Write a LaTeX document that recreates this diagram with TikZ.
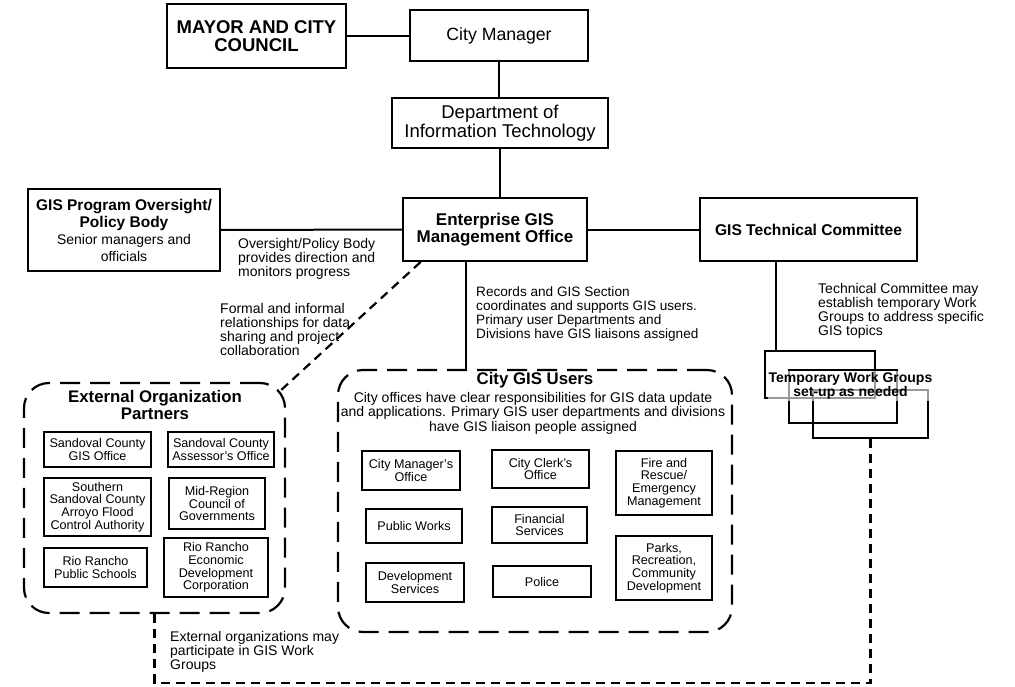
\documentclass[tikz,border=0pt]{standalone}
\usepackage{fontspec}
\setmainfont{Liberation Sans}
\usetikzlibrary{calc}

\begin{document}
\begin{tikzpicture}[x=1pt,y=-1pt]
    \tikzstyle{block} = [ shape=rectangle, draw=black, line width=2pt, align=center, inner sep=0pt ];
    \tikzstyle{unit} = [ shape=rectangle, draw=black, line width=1.6pt, align=center, inner sep=0pt, font=\fontsize{12.6}{12.7}\selectfont ];
    \tikzstyle{group} = [ shape=rectangle, rounded corners=25pt, draw=black, line width=2.2pt, dash pattern=on 20pt off 10pt ];
    \tikzstyle{temp} = [ shape=rectangle, draw=black, line width=1.5pt ];
    \tikzstyle{note} = [ anchor=west, align=left, inner sep=0pt, font=\fontsize{14}{14}\selectfont ];
    \tikzstyle{link} = [ line width=2pt ];
    \tikzstyle{dlink} = [ line width=2.2pt, dash pattern=on 9pt off 6pt ];

    \useasboundingbox (0,0) rectangle (1015,686);
    \fill[white] (0,0) rectangle (1015,686);

    % top of the chart
    \node (nMayor) [block, font=\bfseries\fontsize{18.5}{17.5}\selectfont, minimum width=179pt, minimum height=64pt] at (256.5,36) {MAYOR AND CITY\\COUNCIL};
    \node (nCityMgr) [block, font=\fontsize{17.7}{17}\selectfont, minimum width=178pt, minimum height=51pt] at (499,35.5) {City Manager};
    \node (nDeptIT) [block, font=\fontsize{18.5}{18.5}\selectfont, minimum width=216pt, minimum height=50pt] at (500,123) {Department of\\Information Technology};
    \node (nGisMO) [block, font=\bfseries\fontsize{17}{17.5}\selectfont, minimum width=184pt, minimum height=63pt] at (495,229.5) {Enterprise GIS\\Management Office};
    \node (nOversight) [block, font=\bfseries\fontsize{15.5}{17}\selectfont, minimum width=192pt, minimum height=82pt] at (124,230) {GIS Program Oversight/\\Policy Body\\{\mdseries\fontsize{14}{16}\selectfont Senior managers and}\\{\mdseries\fontsize{14}{16}\selectfont officials}};
    \node (nTechCom) [block, font=\bfseries\fontsize{15.6}{17}\selectfont, minimum width=217pt, minimum height=63pt] at (808.5,229.5) {GIS Technical Committee};

    \draw [link] (nMayor.east) -- (nMayor.east -| nCityMgr.west);
    \draw [link] (nCityMgr.south) -- (nCityMgr.south |- nDeptIT.north);
    \draw [link] (nDeptIT.south) -- (nDeptIT.south |- nGisMO.north);
    \draw [link] (nOversight) -- (nGisMO);
    \draw [link] (nGisMO) -- (nTechCom);

    % notes
    \node (nNoteOversight) [note] at (238,259) {Oversight/Policy Body\\provides direction and\\monitors progress};
    \node (nNoteFormal) [note] at (220,329) {Formal and informal\\relationships for data\\sharing and project\\collaboration};
    \node (nNoteRecords) [note, font=\fontsize{13.6}{14}\selectfont] at (476,314) {Records and GIS Section\\coordinates and supports GIS users.\\Primary user Departments and\\Divisions have GIS liaisons assigned};
    \node (nNoteTech) [note] at (818,311) {Technical Committee may\\establish temporary Work\\Groups to address specific\\GIS topics};
    \node (nNoteExternal) [note] at (170,652) {External organizations may\\participate in GIS Work\\Groups};

    % temporary work groups
    \node (nTempA) [temp, minimum width=110pt, minimum height=47pt] at (820,374.5) {};
    \node (nTempB) [temp, minimum width=108pt, minimum height=53pt] at (843,396.5) {};
    \node (nTempC) [temp, minimum width=115pt, minimum height=48pt] at (870.5,414) {};
    \node (nTempText) [fill=white, fill opacity=0.6, text opacity=1, inner sep=1pt, align=center, font=\bfseries\fontsize{14}{13}\selectfont] at (850.5,386) {Temporary Work Groups\\set-up as needed};

    % external partners
    \node (nExternal) [group, minimum width=261pt, minimum height=230pt] at (154.5,498) {};
    \node (nExternalTitle) [align=center, inner sep=0pt, font=\bfseries\fontsize{16.8}{16.5}\selectfont] at (155,405) {External Organization\\Partners};
    \node (nSandGIS) [unit, minimum width=107pt, minimum height=35pt] at (97.5,449.5) {Sandoval County\\GIS Office};
    \node (nSandAss) [unit, minimum width=106pt, minimum height=35pt] at (221,449.5) {Sandoval County\\Assessor's Office};
    \node (nSouthern) [unit, minimum width=107pt, minimum height=58pt] at (97.5,507) {Southern\\Sandoval County\\Arroyo Flood\\Control Authority};
    \node (nMidRegion) [unit, minimum width=96pt, minimum height=51pt] at (217,503.5) {Mid-Region\\Council of\\Governments};
    \node (nRioSchools) [unit, minimum width=103pt, minimum height=39pt] at (95.5,567.5) {Rio Rancho\\Public Schools};
    \node (nRioEcon) [unit, minimum width=104pt, minimum height=59pt] at (216,567.5) {Rio Rancho\\Economic\\Development\\Corporation};

    % city users
    \node (nUsers) [group, minimum width=394pt, minimum height=262pt] at (535,501) {};
    \node (nUsersTitle) [inner sep=0pt, font=\bfseries\fontsize{16.8}{16.5}\selectfont] at (535,380) {City GIS Users};
    \node (nUsersText) [align=center, inner sep=0pt, font=\fontsize{14}{14.5}\selectfont] at (533,413) {City offices have clear responsibilities for GIS data update\\and applications. Primary GIS user departments and divisions\\have GIS liaison people assigned};
    \node (nCMO) [unit, minimum width=98pt, minimum height=39pt] at (411,470.5) {City Manager's\\Office};
    \node (nPublicWorks) [unit, minimum width=96pt, minimum height=34pt] at (414,526) {Public Works};
    \node (nDevServ) [unit, minimum width=98pt, minimum height=39pt] at (415,582.5) {Development\\Services};
    \node (nClerk) [unit, minimum width=97pt, minimum height=38pt] at (540.5,469) {City Clerk's\\Office};
    \node (nFinancial) [unit, minimum width=95pt, minimum height=36pt] at (539.5,525) {Financial\\Services};
    \node (nPolice) [unit, minimum width=98pt, minimum height=31pt] at (542,581.5) {Police};
    \node (nFire) [unit, minimum width=96pt, minimum height=64pt] at (664,483) {Fire and\\Rescue/\\Emergency\\Management};
    \node (nParks) [unit, minimum width=96pt, minimum height=64pt] at (664,568) {Parks,\\Recreation,\\Community\\Development};

    % links to the groups
    \coordinate (cUsers) at (466,370);
    \coordinate (cTemp) at (776,351);
    \coordinate (cExtCorner) at (279,392);
    \coordinate (cBottom) at (0,683);
    \draw [link] (nGisMO.south -| cUsers) -- (cUsers);
    \draw [link] (nTechCom.south -| cTemp) -- (cTemp);
    \draw [dlink] ($(nGisMO.south west)!0.1!(nGisMO.south east)$) -- (cExtCorner);
    \draw [dlink] (nTempC.south) -- (nTempC.south |- cBottom) -| (nExternal.south);
\end{tikzpicture}
\end{document}
